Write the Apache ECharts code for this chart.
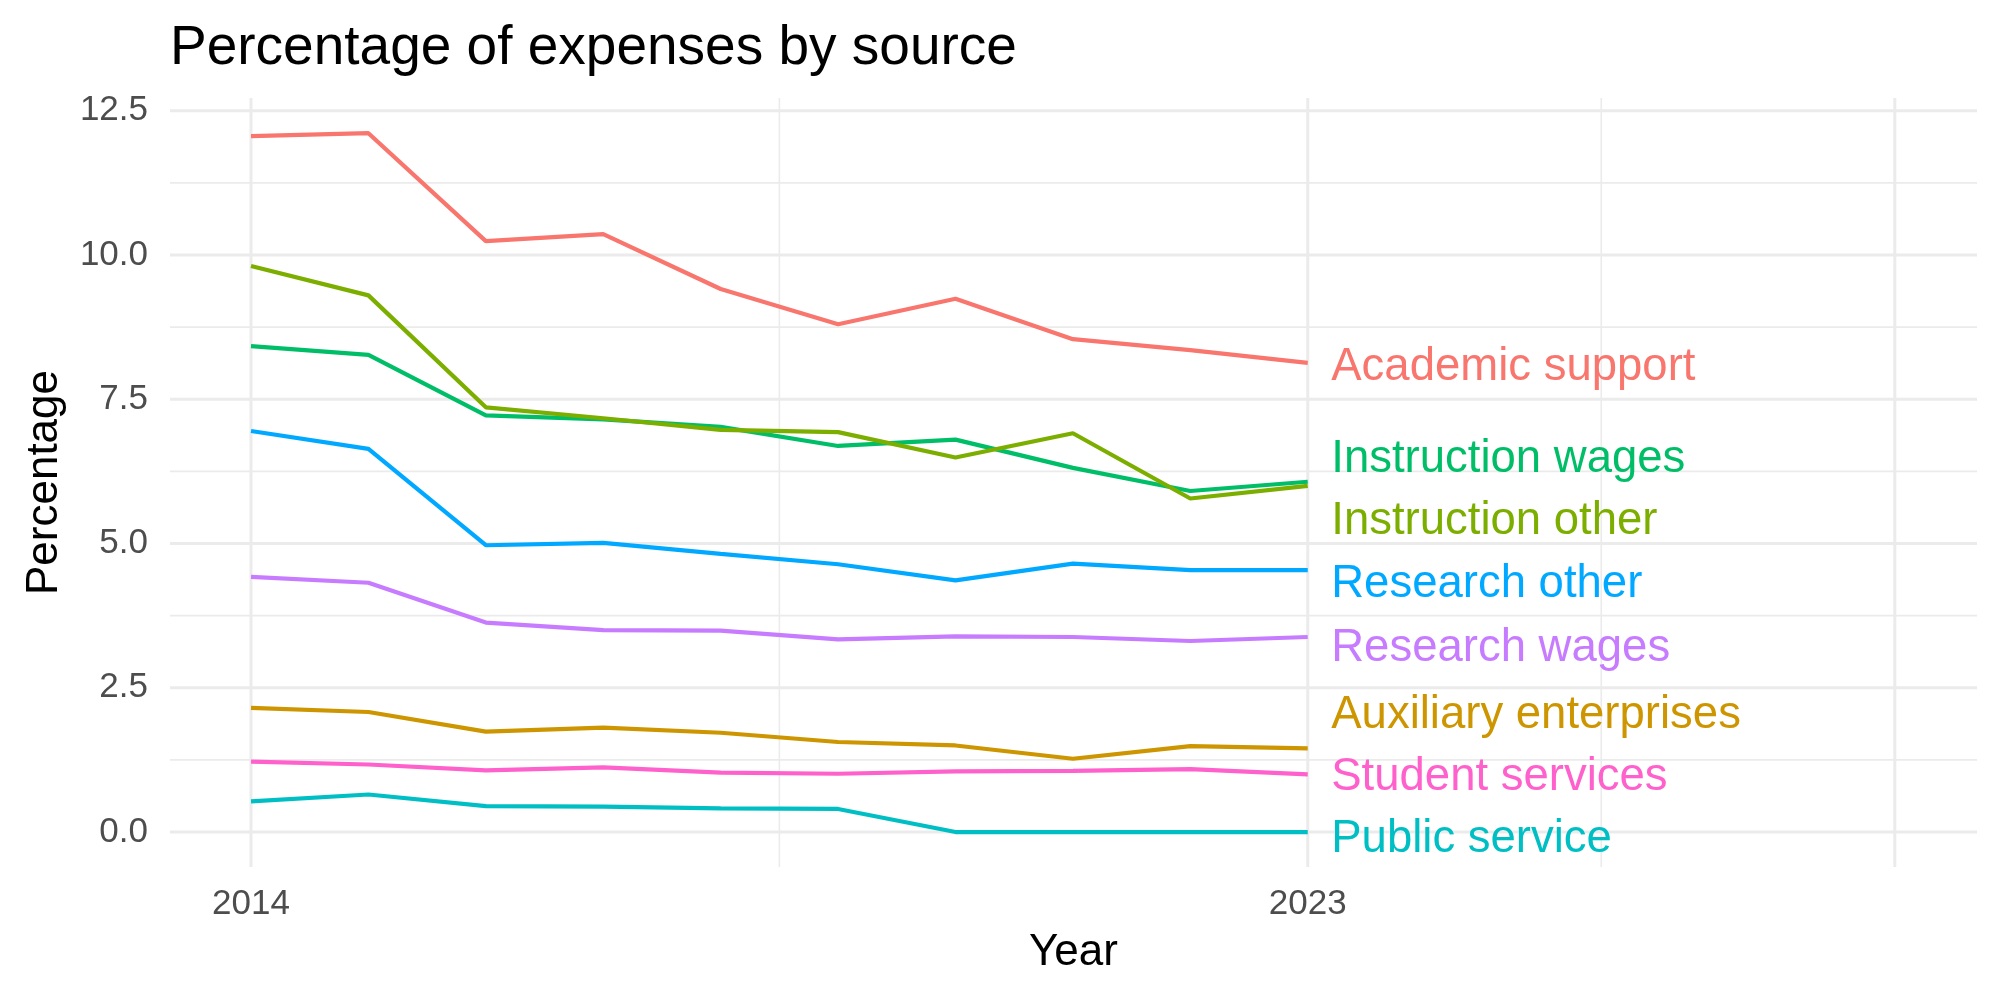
<!DOCTYPE html>
<html>
<head>
<meta charset="utf-8">
<script src="https://cdn.jsdelivr.net/npm/echarts@6/dist/echarts.min.js"></script>
<style>
  html, body { margin: 0; padding: 0; background: #fff; }
  #chart { width: 2000px; height: 1000px; }
</style>
</head>
<body>
<div id="chart"></div>
<script>
const years = [2014, 2015, 2016, 2017, 2018, 2019, 2020, 2021, 2022, 2023]

const academicSupport = [12.06, 12.11, 10.24, 10.36, 9.41, 8.80, 9.24, 8.54, 8.35, 8.13]
const instructionWages = [8.42, 8.27, 7.22, 7.15, 7.02, 6.69, 6.80, 6.31, 5.91, 6.07]
const instructionOther = [9.81, 9.30, 7.36, 7.17, 6.97, 6.93, 6.49, 6.91, 5.78, 6.00]
const researchOther = [6.95, 6.64, 4.97, 5.01, 4.82, 4.64, 4.36, 4.65, 4.54, 4.54]
const researchWages = [4.42, 4.32, 3.63, 3.50, 3.49, 3.34, 3.39, 3.38, 3.31, 3.38]
const auxiliaryEnterprises = [2.15, 2.08, 1.74, 1.81, 1.72, 1.56, 1.50, 1.27, 1.49, 1.45]
const studentServices = [1.22, 1.17, 1.07, 1.12, 1.03, 1.01, 1.05, 1.06, 1.09, 1.00]
const publicService = [0.53, 0.65, 0.45, 0.44, 0.41, 0.40, 0.00, 0.00, 0.00, 0.00]

const categories = ['Academic support', 'Instruction wages', 'Instruction other', 'Research other',
  'Research wages', 'Auxiliary enterprises', 'Student services', 'Public service']
const values = [academicSupport, instructionWages, instructionOther, researchOther,
  researchWages, auxiliaryEnterprises, studentServices, publicService]
// where the (repelled) end labels sit, in y units
const labelY = [8.14, 6.54, 5.46, 4.38, 3.26, 2.11, 1.04, -0.05]
const colors = ['#F8766D', '#00BE67', '#7CAE00', '#00A9FF', '#C77CFF', '#CD9600', '#FF61CC', '#00BFC4']

const yTicks = [0, 2.5, 5, 7.5, 10, 12.5]
const yMinor = [1.25, 3.75, 6.25, 8.75, 11.25]
const xTicks = [2014, 2023]
const xMajorGrid = [2014, 2023, 2028]
const xMinorGrid = [2018.5, 2025.5]

const xMin = 2013.31, xMax = 2028.7
const yMin = -0.606, yMax = 12.72

const font = 'Liberation Sans'
const gridCol = '#EBEBEB'

const series = []

// background grid as plain two-point lines
function gridLine(pts, w) {
  series.push({
    type: 'line',
    z: 0,
    silent: true,
    showSymbol: false,
    lineStyle: { color: gridCol, width: w },
    data: pts,
  })
}
yMinor.forEach(v => gridLine([[xMin, v], [xMax, v]], 1.6))
xMinorGrid.forEach(v => gridLine([[v, yMin], [v, yMax]], 1.6))
yTicks.forEach(v => gridLine([[xMin, v], [xMax, v]], 3))
xMajorGrid.forEach(v => gridLine([[v, yMin], [v, yMax]], 3))

for (let i = 0; i < categories.length; i++) {
  series.push({
    name: categories[i],
    type: 'line',
    z: 3,
    showSymbol: false,
    lineStyle: { color: colors[i], width: 4.2 },
    itemStyle: { color: colors[i] },
    data: years.map((y, j) => [y, values[i][j]]),
  })
  series.push({
    name: categories[i] + ' label',
    type: 'scatter',
    z: 4,
    silent: true,
    symbolSize: 1,
    itemStyle: { color: 'rgba(0,0,0,0)', opacity: 1 },
    label: {
      show: true,
      position: 'right',
      distance: 23,
      offset: [0, 5],
      formatter: categories[i],
      color: colors[i],
      opacity: 1,
      fontSize: 45.5,
      fontFamily: font,
    },
    data: [[2023, labelY[i]]],
  })
}

const option = {
  animation: false,
  backgroundColor: '#ffffff',
  title: {
    text: 'Percentage of expenses by source',
    left: 165,
    top: 16,
    textStyle: { fontFamily: font, fontSize: 55, fontWeight: 'normal', color: '#000' },
  },
  grid: { left: 170, right: 23, top: 98, bottom: 133 },
  xAxis: {
    type: 'value',
    min: xMin,
    max: xMax,
    name: 'Year',
    nameLocation: 'middle',
    nameGap: 64,
    nameTextStyle: { fontFamily: font, fontSize: 44, color: '#000' },
    axisLine: { show: false, onZero: false },
    axisTick: { show: false },
    splitLine: { show: false },
    axisLabel: {
      customValues: xTicks,
      formatter: v => String(v),
      margin: 20,
      fontFamily: font,
      fontSize: 35,
      color: '#4D4D4D',
    },
  },
  yAxis: {
    type: 'value',
    min: yMin,
    max: yMax,
    name: 'Percentage',
    nameLocation: 'middle',
    nameGap: 103,
    nameTextStyle: { fontFamily: font, fontSize: 44, color: '#000' },
    axisLine: { show: false },
    axisTick: { show: false },
    splitLine: { show: false },
    axisLabel: {
      customValues: yTicks,
      formatter: v => v.toFixed(1),
      margin: 22,
      fontFamily: font,
      fontSize: 35,
      color: '#4D4D4D',
    },
  },
  series: series,
}

const myChart = echarts.init(document.getElementById('chart'))
myChart.setOption(option)
</script>
</body>
</html>
